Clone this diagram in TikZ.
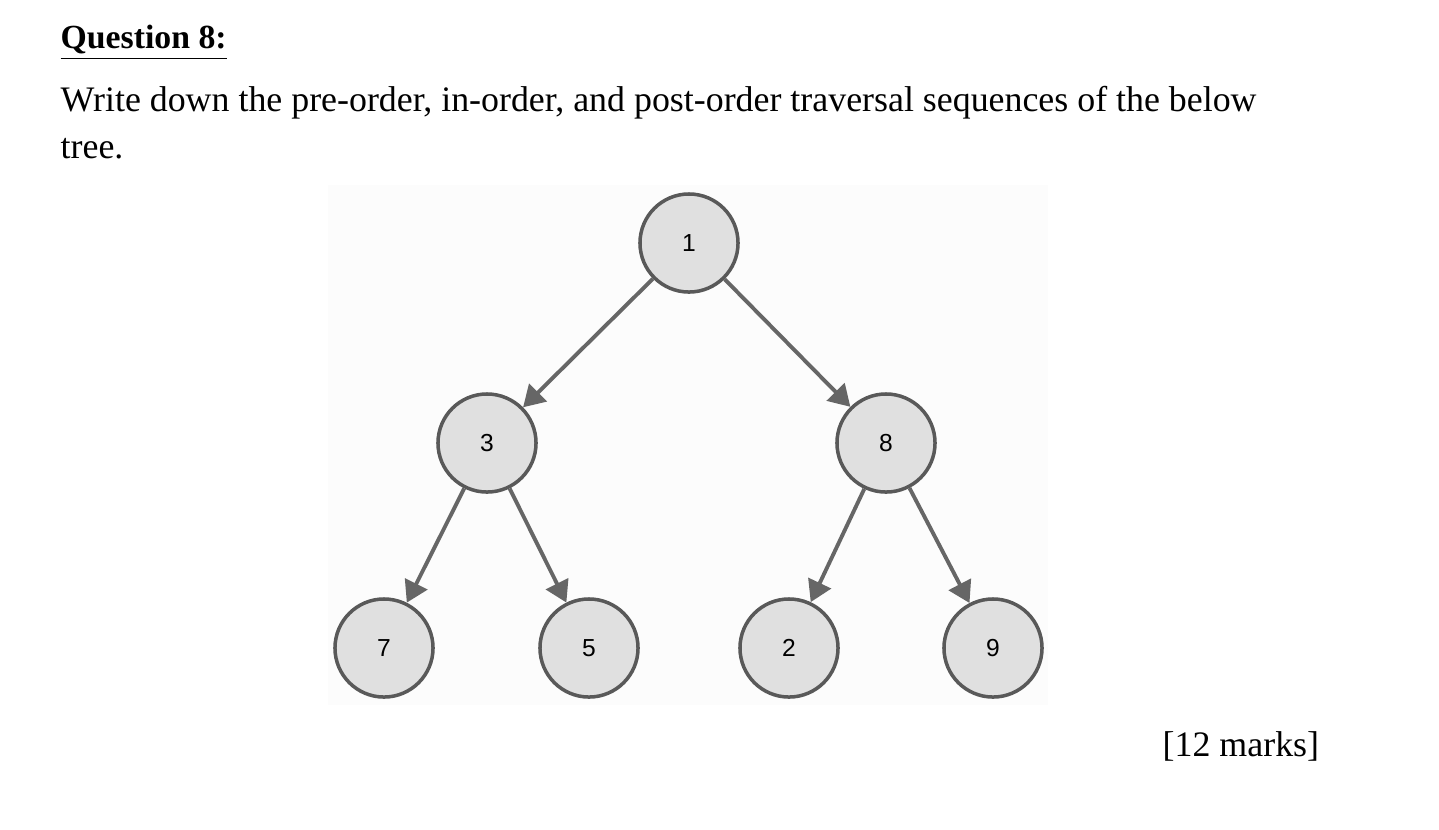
\documentclass[tikz,border=0pt]{standalone}
\usepackage{fontspec}
\setmainfont{Liberation Serif}
\newfontfamily\treefont{Liberation Sans}
\usetikzlibrary{arrows.meta}
\tikzset{
    vertex/.style={circle,draw=black!65,line width=1pt,fill=black!12,minimum size=0.98cm,inner sep=0pt,font=\treefont\fontsize{7}{8}\selectfont},
    edge/.style={draw=black!60,line width=1.1pt,-{Triangle[length=6pt,width=7pt]}},
    txt/.style={anchor=base west,inner sep=0pt,font=\fontsize{10.2}{12}\selectfont}
}
\begin{document}
\begin{tikzpicture}[x=0.01cm,y=-0.01cm]
    \useasboundingbox (0,0) rectangle (1439,829);
    \fill[black!1] (328,185) rectangle (1048,705); % image area
    \node[txt,font=\fontsize{9.6}{11}\selectfont\bfseries] (title) at (60,48) {\underline{Question 8:}};
    \node[txt] (line1) at (60,111) {Write down the pre-order, in-order, and post-order traversal sequences of the below};
    \node[txt] (line2) at (60,158) {tree.};
    \node[txt] (marks) at (1162,756) {[12 marks]};

    % tree
    \node[vertex] (n1) at (689,243) {1};
    \node[vertex] (n3) at (487,443) {3};
    \node[vertex] (n8) at (886,443) {8};
    \node[vertex] (n7) at (384,648) {7};
    \node[vertex] (n5) at (589,648) {5};
    \node[vertex] (n2) at (789,648) {2};
    \node[vertex] (n9) at (993,648) {9};

    \draw[edge] (n1) -- (n3);
    \draw[edge] (n1) -- (n8);
    \draw[edge] (n3) -- (n7);
    \draw[edge] (n3) -- (n5);
    \draw[edge] (n8) -- (n2);
    \draw[edge] (n8) -- (n9);
\end{tikzpicture}
\end{document}
